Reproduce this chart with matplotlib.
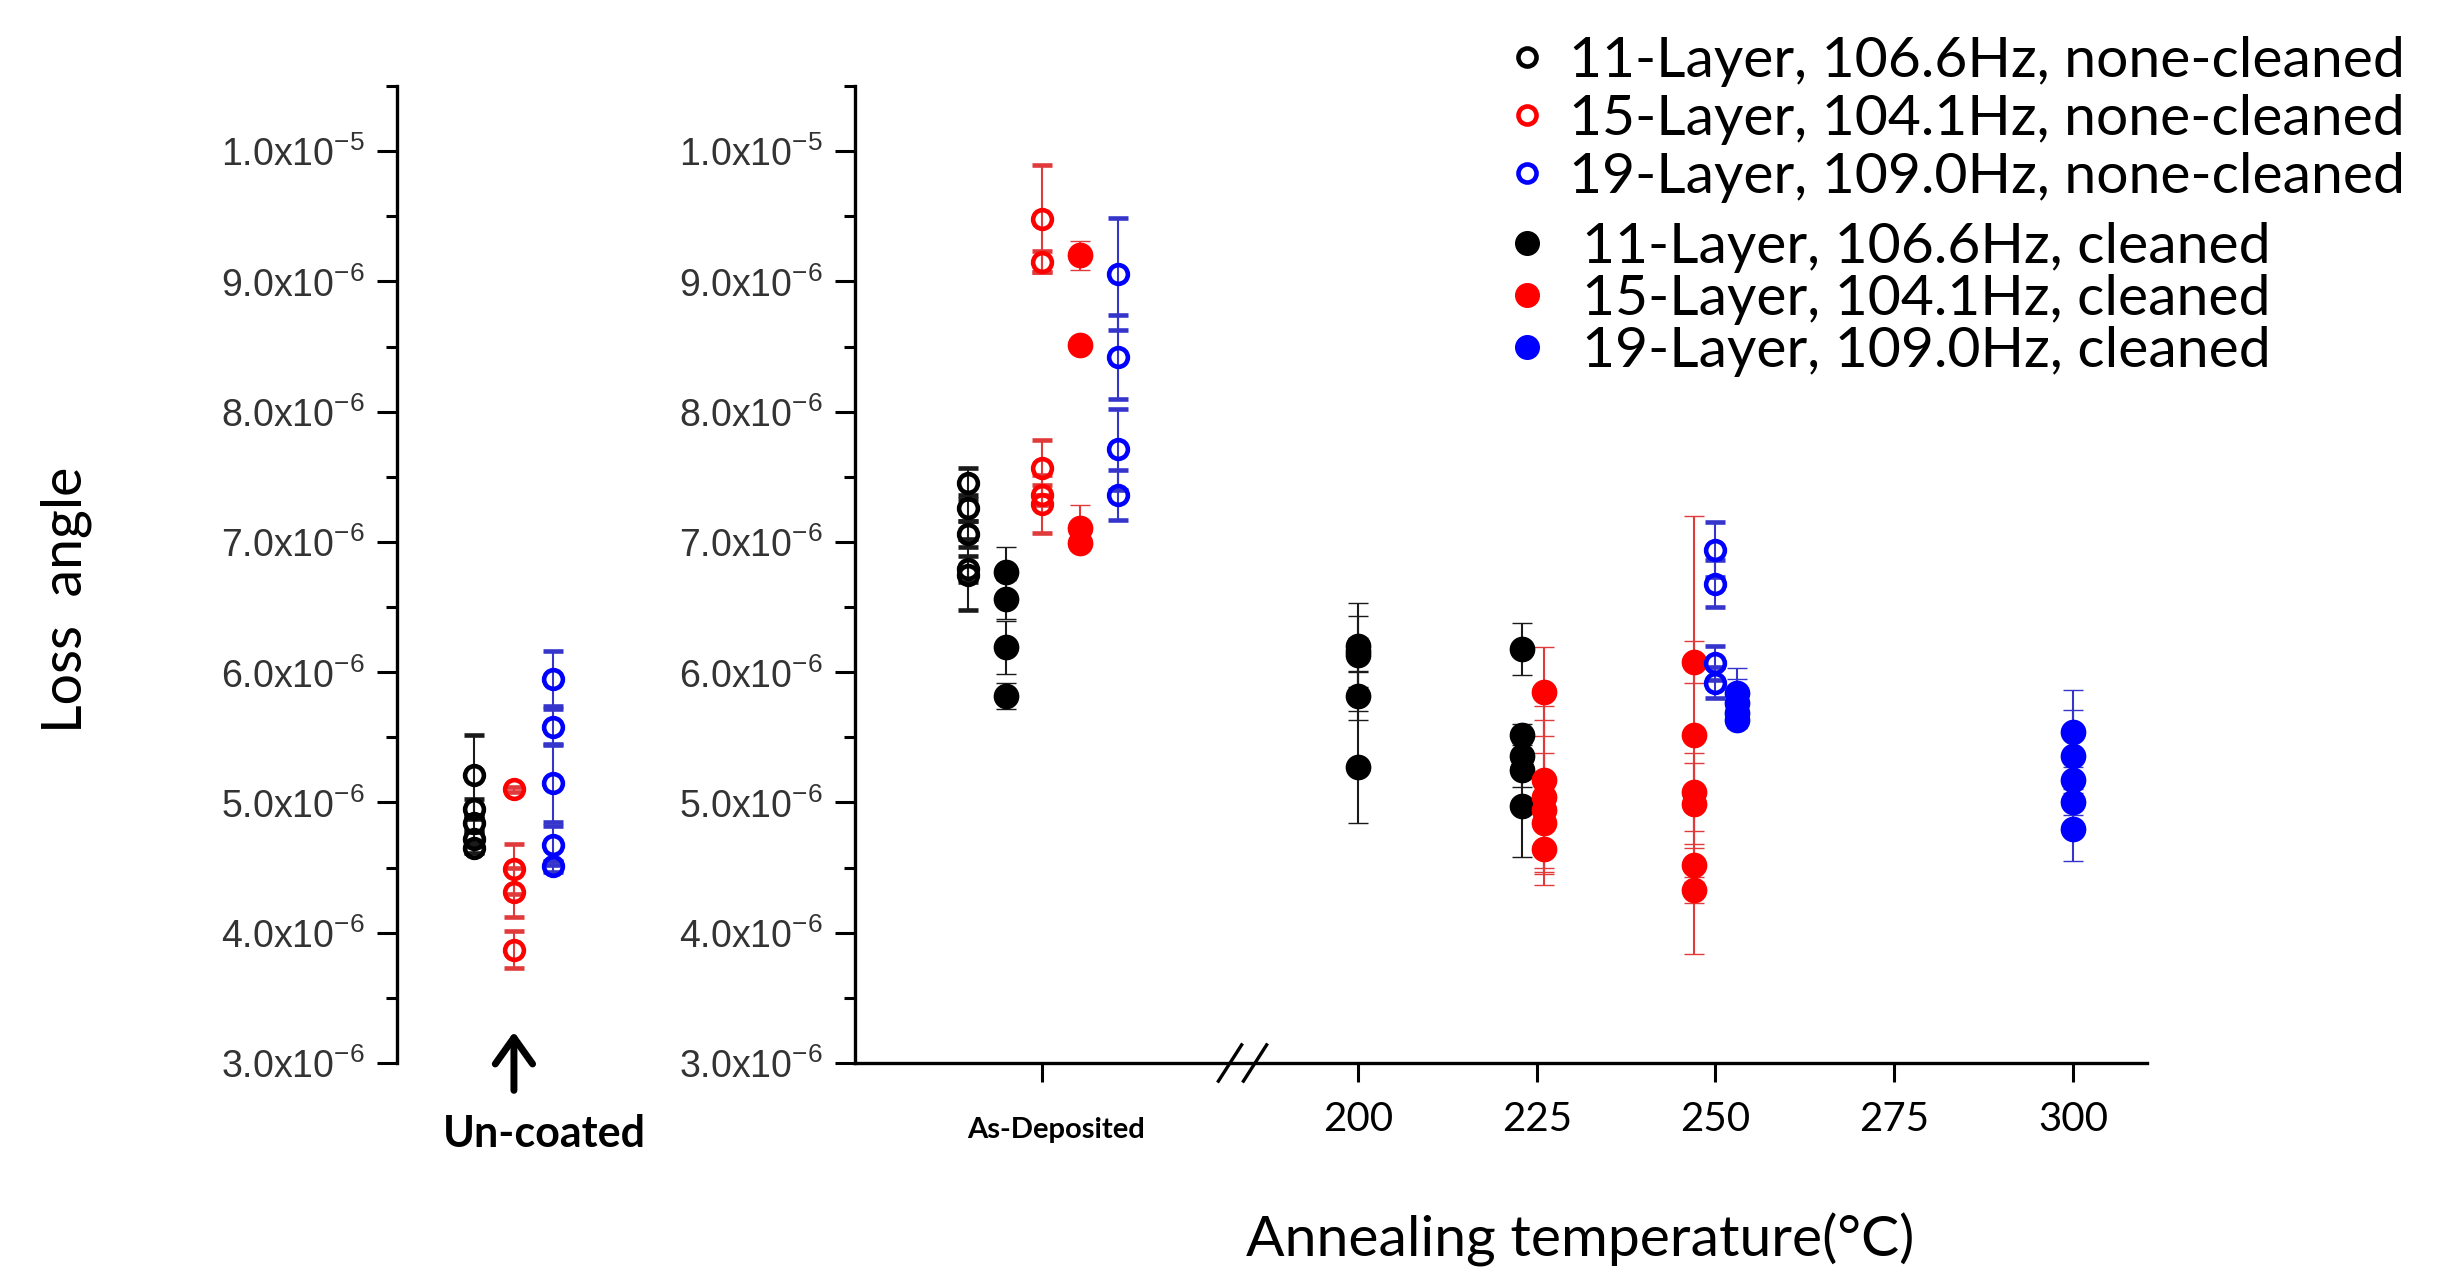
import matplotlib
matplotlib.use("Agg")
import matplotlib.pyplot as plt
from matplotlib.lines import Line2D
from matplotlib.ticker import FixedLocator, FixedFormatter, MultipleLocator
import matplotlib.transforms as mtransforms

plt.rcParams['font.family'] = ['Lato', 'DejaVu Sans']
plt.rcParams['mathtext.fontset'] = 'custom'
plt.rcParams['mathtext.rm'] = 'Liberation Sans'
plt.rcParams['mathtext.it'] = 'Liberation Sans:italic'
plt.rcParams['mathtext.bf'] = 'Liberation Sans:bold'

# ---------------- data (loss angle in units of 1e-6) ----------------
# Un-coated substrates (none-cleaned)
uncoated_11_y = [5.21, 4.95, 4.84, 4.72, 4.65]
uncoated_11_err = [0.31, 0.08, 0.06, 0.05, 0.04]
uncoated_15_y = [5.10, 4.49, 4.31, 3.87]
uncoated_15_err = [0.02, 0.19, 0.19, 0.14]
uncoated_19_y = [5.95, 5.58, 5.15, 4.67, 4.51]
uncoated_19_err = [0.21, 0.14, 0.30, 0.15, 0.04]

# As-deposited coatings
asdep_11_none_y = [7.45, 7.26, 7.06, 6.79, 6.75]
asdep_11_none_err = [0.12, 0.10, 0.10, 0.10, 0.27]
asdep_11_clean_y = [6.77, 6.56, 6.19, 5.82]
asdep_11_clean_err = [0.19, 0.15, 0.20, 0.10]
asdep_15_none_y = [9.48, 9.15, 7.57, 7.36, 7.29]
asdep_15_none_err = [0.41, 0.08, 0.21, 0.08, 0.22]
asdep_15_clean_y = [9.20, 8.51, 7.11, 6.99]
asdep_15_clean_err = [0.11, 0.03, 0.17, 0.04]
asdep_19_none_y = [9.06, 8.42, 7.71, 7.36]
asdep_19_none_err = [0.43, 0.32, 0.31, 0.19]

# Annealed coatings: plotted temperature (deg C), loss angle, error
ann_11_clean_T = [200, 200, 200, 200, 200, 223, 223, 223, 223, 223]
ann_11_clean_y = [6.20, 6.16, 6.13, 5.82, 5.27, 6.18, 5.52, 5.36, 5.25, 4.97]
ann_11_clean_err = [0.33, 0.27, 0.13, 0.19, 0.43, 0.20, 0.08, 0.10, 0.13, 0.39]
ann_15_clean_T = [226, 226, 226, 226, 226, 226, 247, 247, 247, 247, 247, 247]
ann_15_clean_y = [5.85, 5.17, 5.04, 4.94, 4.84, 4.64, 6.08, 5.52, 5.08, 4.99, 4.52, 4.33]
ann_15_clean_err = [0.34, 0.57, 0.59, 0.44, 0.37, 0.27, 0.16, 1.68, 0.30, 0.31, 0.13, 0.10]
ann_19_none_T = [250, 250, 250, 250]
ann_19_none_y = [6.94, 6.68, 6.07, 5.92]
ann_19_none_err = [0.21, 0.18, 0.13, 0.12]
ann_19_clean_T = [253, 253, 253, 253, 300, 300, 300, 300, 300]
ann_19_clean_y = [5.84, 5.76, 5.69, 5.63, 5.54, 5.36, 5.17, 5.00, 4.80]
ann_19_clean_err = [0.19, 0.19, 0.06, 0.05, 0.32, 0.35, 0.10, 0.10, 0.25]

legend_none = ['11-Layer, 106.6Hz, none-cleaned',
               '15-Layer, 104.1Hz, none-cleaned',
               '19-Layer, 109.0Hz, none-cleaned']
legend_clean = ['11-Layer, 106.6Hz, cleaned',
                '15-Layer, 104.1Hz, cleaned',
                '19-Layer, 109.0Hz, cleaned']

ytick_vals = [3, 4, 5, 6, 7, 8, 9, 10]
ytick_labels = [r'$\mathrm{3.0x10^{-6}}$', r'$\mathrm{4.0x10^{-6}}$',
                r'$\mathrm{5.0x10^{-6}}$', r'$\mathrm{6.0x10^{-6}}$',
                r'$\mathrm{7.0x10^{-6}}$', r'$\mathrm{8.0x10^{-6}}$',
                r'$\mathrm{9.0x10^{-6}}$', r'$\mathrm{1.0x10^{-5}}$']
temp_ticks = [200, 225, 250, 275, 300]
temp_labels = ['200', '225', '250', '275', '300']

# ---------------- styling / layout ----------------
C = {'11': 'black', '15': '#ff0000', '19': '#0000ff'}
EC = {'11': '#1a1a1a', '15': '#e03a3a', '19': '#3535cc'}

AS_DEP = 155.8            # position of the As-Deposited category on the T axis
ASDEP_OFF = {'11n': -10.3, '11c': -5.1, '15n': 0.0, '15c': 5.3, '19n': 10.6}
UNC = 0.0                 # position of the Un-coated category
UNC_OFF = {'11': -1.0, '15': 0.0, '19': 1.0}

W, H = 2461, 1271
fig = plt.figure(figsize=(W / 100, H / 100), dpi=100)

ax_bottom = (H - 1063) / H
ax_height = (1063 - 86) / H
axL = fig.add_axes([397 / W, ax_bottom, (700 - 397) / W, ax_height])
axR = fig.add_axes([855 / W, ax_bottom, (2147 - 855) / W, ax_height])


def draw(ax, x, y, e, key, filled):
    if filled:
        kw = dict(marker='o', ms=17.5, mfc=C[key], mec=C[key], mew=1)
    else:
        kw = dict(marker='o', ms=13.5, mfc='none', mec=C[key], mew=3.3)
    ax.errorbar(x, y, yerr=e, ls='none', ecolor=EC[key], elinewidth=1.5,
                capsize=7, capthick=1.5, zorder=3, **kw)


# Left panel: un-coated
draw(axL, [UNC + UNC_OFF['11']] * len(uncoated_11_y), uncoated_11_y, uncoated_11_err, '11', False)
draw(axL, [UNC + UNC_OFF['15']] * len(uncoated_15_y), uncoated_15_y, uncoated_15_err, '15', False)
draw(axL, [UNC + UNC_OFF['19']] * len(uncoated_19_y), uncoated_19_y, uncoated_19_err, '19', False)

# Right panel: as-deposited
draw(axR, [AS_DEP + ASDEP_OFF['11n']] * len(asdep_11_none_y), asdep_11_none_y, asdep_11_none_err, '11', False)
draw(axR, [AS_DEP + ASDEP_OFF['11c']] * len(asdep_11_clean_y), asdep_11_clean_y, asdep_11_clean_err, '11', True)
draw(axR, [AS_DEP + ASDEP_OFF['15n']] * len(asdep_15_none_y), asdep_15_none_y, asdep_15_none_err, '15', False)
draw(axR, [AS_DEP + ASDEP_OFF['15c']] * len(asdep_15_clean_y), asdep_15_clean_y, asdep_15_clean_err, '15', True)
draw(axR, [AS_DEP + ASDEP_OFF['19n']] * len(asdep_19_none_y), asdep_19_none_y, asdep_19_none_err, '19', False)

# Right panel: annealed
draw(axR, ann_11_clean_T, ann_11_clean_y, ann_11_clean_err, '11', True)
draw(axR, ann_15_clean_T, ann_15_clean_y, ann_15_clean_err, '15', True)
draw(axR, ann_19_none_T, ann_19_none_y, ann_19_none_err, '19', False)
draw(axR, ann_19_clean_T, ann_19_clean_y, ann_19_clean_err, '19', True)

# ---------------- axes formatting ----------------
for ax in (axL, axR):
    ax.set_ylim(3, 10.5)
    ax.yaxis.set_major_locator(FixedLocator(ytick_vals))
    ax.yaxis.set_major_formatter(FixedFormatter(ytick_labels))
    ax.yaxis.set_minor_locator(MultipleLocator(0.5))
    ax.spines['top'].set_visible(False)
    ax.spines['right'].set_visible(False)
    ax.spines['left'].set_linewidth(2.4)
    ax.spines['bottom'].set_linewidth(2.4)
    ax.tick_params(axis='y', which='major', direction='out', length=14.4, width=2.2,
                   pad=9, labelsize=27, labelcolor='#333333')
    ax.tick_params(axis='y', which='minor', direction='out', length=8, width=2.2)
    ax.set_facecolor('none')

axL.set_xlim(-2.96, 4.71)
axL.spines['bottom'].set_visible(False)
axL.set_xticks([])

axR.set_xlim(129.65, 310.35)
axR.set_xticks([AS_DEP] + temp_ticks)
axR.set_xticklabels([''] + temp_labels)
axR.tick_params(axis='x', which='major', direction='out', length=13.7, width=2.2,
                pad=14, labelsize=29)

# As-Deposited label (bold, smaller)
trans = mtransforms.blended_transform_factory(axR.transData, axR.transAxes)
axR.text(AS_DEP + 2, -0.055, 'As-Deposited', transform=trans, ha='center', va='top',
         fontsize=21, fontweight='bold', clip_on=False)

# Axis break marks
for xc in (182.1, 185.6):
    axR.plot([xc - 1.75, xc + 1.75], [-0.020, 0.020], transform=trans, color='black',
             lw=2.4, clip_on=False, solid_capstyle='butt', zorder=5)

# Un-coated arrow and label
axL.annotate('', xy=(UNC, 3.24), xytext=(UNC, 2.79), xycoords='data',
             arrowprops=dict(arrowstyle='->,head_length=0.45,head_width=0.32',
                             lw=5, color='black', mutation_scale=42,
                             shrinkA=0, shrinkB=0),
             annotation_clip=False)
axL.text(UNC + 0.76, 2.455, 'Un-coated', ha='center', va='center', fontsize=31,
         fontweight='bold', clip_on=False)

# Axis titles
fig.text(66 / W, 1 - 600 / H, 'Loss  angle', rotation=90, ha='center', va='center',
         fontsize=40)
fig.text(1580 / W, 1 - 1240 / H, 'Annealing temperature(°C)', ha='center', va='center',
         fontsize=41)

# ---------------- legends ----------------
keys = ['11', '15', '19']
h_none = [Line2D([], [], ls='none', marker='o', ms=13, mfc='none', mec=C[k], mew=3.3)
          for k in keys]
h_clean = [Line2D([], [], ls='none', marker='o', ms=17, mfc=C[k], mec=C[k], mew=1)
           for k in keys]
leg1 = fig.legend(h_none, legend_none, loc='upper left', bbox_to_anchor=(1509.5 / W, 1 - 36 / H),
                  frameon=False, fontsize=41, borderpad=0, borderaxespad=0,
                  handlelength=0.6, handletextpad=0.45, labelspacing=0.12)
leg2 = fig.legend(h_clean, legend_clean, loc='upper left', bbox_to_anchor=(1509.5 / W, 1 - 222 / H),
                  frameon=False, fontsize=41, borderpad=0, borderaxespad=0,
                  handlelength=0.6, handletextpad=0.68, labelspacing=0.02)

fig.savefig('out.png', dpi=100)
